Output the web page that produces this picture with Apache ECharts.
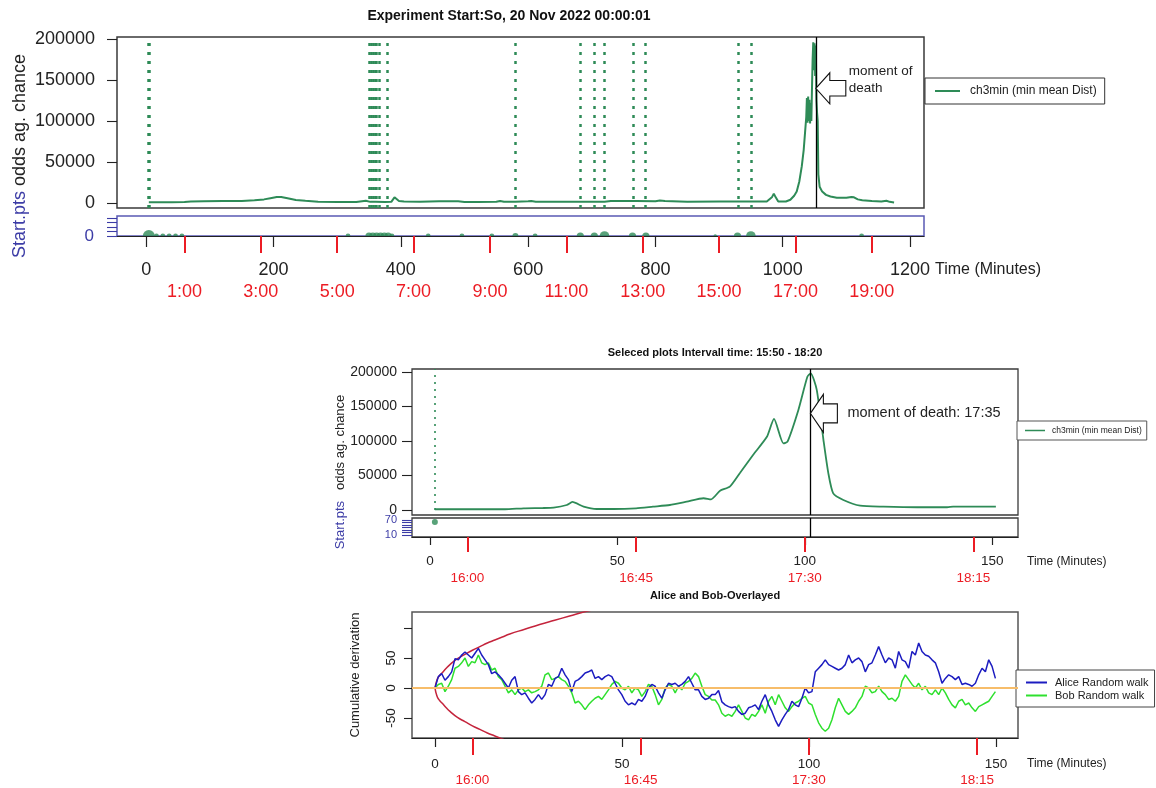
<!DOCTYPE html>
<html>
<head>
<meta charset="utf-8">
<script src="https://cdn.jsdelivr.net/npm/echarts@6/dist/echarts.min.js"></script>
<style>
  html, body { margin: 0; padding: 0; background: #fff; }
  #chart { width: 1156px; height: 788px; }
</style>
</head>
<body>
<div id="chart"></div>
<script>
// ---- data ----
// top panel: whole experiment, minutes since start
const topTime = [4, 20, 40, 60, 70, 90, 120, 150, 170, 185, 195, 205, 212, 222, 235, 250, 270, 300, 330, 345,
  352, 360, 375, 385, 390, 393, 397, 405, 430, 460, 490, 500, 520, 550, 556, 562, 580, 600, 605, 612,
  640, 680, 720, 730, 740, 770, 800, 807, 815, 850, 900, 950, 975, 983, 986, 989, 993, 1005, 1012, 1018,
  1022, 1026, 1030, 1033, 1035, 1037, 1038, 1039, 1040, 1041, 1042, 1043, 1044, 1045, 1046, 1047, 1048, 1049, 1050, 1051,
  1052, 1053, 1054, 1055, 1056, 1058, 1062, 1068, 1075, 1085, 1100, 1108, 1112, 1118, 1125, 1140, 1155, 1163, 1168, 1175];
const topValue = [1000, 1000, 1000, 1200, 1800, 2200, 2500, 2600, 3500, 4500, 6000, 7500, 7500, 6000, 3800, 2800, 1500, 1200, 1300, 2800,
  1500, 1600, 1200, 1500, 7000, 5000, 2500, 2000, 1500, 2200, 2200, 1400, 1400, 1500, 2500, 1500, 1500, 2300, 2600, 1600,
  1600, 1600, 1600, 2600, 2500, 2400, 2300, 3200, 2400, 1500, 2000, 2000, 2000, 7000, 11500, 7000, 1800, 2000, 4000, 9000,
  14000, 26000, 45000, 65000, 85000, 105000, 128000, 98000, 130000, 100000, 126000, 97000, 122000, 100000, 140000, 175000, 196000, 162000, 195000, 155000,
  192000, 125000, 110000, 100000, 35000, 20000, 14000, 10000, 8000, 6500, 6500, 7500, 7000, 4500, 3500, 2500, 1800, 2800, 1500, 800];
const topStartLines = [3, 5, 350, 353, 356, 359, 362, 366, 378, 580, 682, 704, 719, 765, 784, 930, 951];
const topStartPtTimes = [4, 16, 26, 36, 46, 56, 317, 350, 356, 362, 368, 374, 380, 386, 443, 496, 543, 580, 611, 682, 704, 720, 764, 785, 894, 929, 950, 1124];
const topStartPtWeights = [5, 2, 2, 2, 2, 2, 2, 3, 3, 3, 3, 3, 3, 2, 2, 2, 2, 2.5, 2, 3, 3, 4, 3, 3, 1.5, 3, 4, 2];
const topDeathTime = 1052;
const topYTicks = [0, 50000, 100000, 150000, 200000];
const topMinuteTicks = [0, 200, 400, 600, 800, 1000, 1200];
const topClockTicks = [60, 180, 300, 420, 540, 660, 780, 900, 1020, 1140];
const topClockLabels = ['1:00', '3:00', '5:00', '7:00', '9:00', '11:00', '13:00', '15:00', '17:00', '19:00'];

// middle panel: selected interval 15:50 - 18:20
const midTime = [1.3, 10, 20, 25, 30, 33, 36.5, 38, 41, 44.5, 49, 55, 59.5, 64, 68.5, 73, 75, 77.4, 80, 82.7,
  86.2, 89.9, 91.8, 94.3, 95.4, 98.3, 100.7, 101.6, 103.2, 105, 106.3, 107.6, 110.3, 114.8, 121, 130, 138, 139.6, 151];
const midValue = [1000, 1000, 1000, 2400, 2800, 3400, 7200, 11600, 4800, 1400, 1400, 2400, 4800, 7200, 12000, 17000, 15400, 28000, 33800, 53600,
  79700, 106000, 132000, 96600, 99000, 145000, 193000, 198000, 174000, 101000, 53000, 24000, 14500, 6200, 4800, 3900, 3900, 4800, 4800];
const midStartTime = 1.3;
const midStartPt = 62;
const midDeathTime = 101.5;
const midStripTicks = [10, 20, 30, 40, 50, 60, 70];
const midStripLabels = [10, 70];
const zoomMinuteTicks = [0, 50, 100, 150];
const zoomClockTicks = [10, 55, 100, 145];
const zoomClockLabels = ['16:00', '16:45', '17:30', '18:15'];
const deathArrowValue = 140000;

// bottom panel: random walks, one reading every walkStep minutes
const walkStep = 0.892;
const aliceWalk = [0, 19, 24, 13, 19, 27, 49, 47, 55, 60, 55, 50, 58, 66, 55, 47, 39, 24, 27, 22,
  16, 8, 0, 13, 19, -6, -11, -8, -17, -25, -19, -11, -19, -11, 6, 3, 16, 19, 33, 22,
  14, -6, 11, 14, 19, 25, 27, 30, 16, 19, 14, 19, 22, 19, 8, -3, -11, -22, -28, -25,
  -28, -19, -22, -14, 0, 6, 3, -8, -17, -3, 8, 6, 8, 3, 6, 11, 19, 8, -3, -3,
  -14, -19, -17, -11,
  -11, -4, -23, -28, -31, -33, -31, -39, -44, -42, -33, -31, -28, -36, -22, -11, -28, -39, -53, -64,
  -53, -44, -36, -22, -28, -31, -17, 0, -8, -6, 27, 33, 39, 47, 39, 36, 33, 30, 33, 39,
  55, 42, 47, 50, 44, 27, 39, 42, 55, 69, 55, 42, 50, 47, 33, 61, 47, 44, 33, 61,
  55, 75, 61, 55, 53, 47, 42, 27, 8, 16, 22, 19, 14, 19, 6, 8, 6, 3, 8, 22,
  33, 27, 47, 36, 16];
const bobWalk = [0, 6, 8, -6, 3, 14, 33, 36, 42, 50, 36, 44, 42, 55, 42, 39, 42, 30, 33, 19,
  14, 3, -8, -3, -11, -3, 0, -6, -3, -8, -6, -3, 3, 22, 25, 14, 16, 19, 14, 11,
  3, -8, -25, -22, -28, -36, -28, -22, -17, -14, -19, -11, -3, 6, 11, 8, 0, -3, 3, -8,
  0, -3, -14, -6, 6, 3, -11, -28, -19, 0, 6, 3, -8, 3, -3, 8, 11, 16, 25, 19,
  3, -11, -14, -20,
  -20, -28, -42, -47, -44, -47, -39, -28, -39, -50, -53, -44, -47, -39, -28, -42, -22, -14, -28, -11,
  -22, -33, -39, -31, -25, -22, -17, -14, -25, -28, -44, -58, -67, -72, -67, -53, -33, -17, -28, -39,
  -44, -39, -33, -22, -14, 3, 0, -8, -6, 3, -6, -11, -19, -17, -22, -14, 11, 22, 14, 6,
  0, 8, -3, 3, -8, -11, -3, -11, 0, -8, -19, -28, -33, -22, -19, -28, -25, -33, -39, -31,
  -28, -25, -22, -14, -6];
const envTime = [0, 0.5, 1, 2, 3, 4, 6, 8, 10, 12, 14, 16, 18, 20, 24, 28, 32, 36, 40, 42];
const envUpper = [0, 13, 19, 26, 33, 39, 49, 56, 63, 69, 75, 80, 85, 90, 98, 106, 113, 120, 127, 130];
const envLower = [0, -13, -19, -26, -33, -39, -49, -56, -63, -69, -75, -80, -85, -90, -98, -106, -113, -120, -127, -130];
const walkYTicks = [-50, 0, 50, 100];
const walkYLabels = [-50, 0, 50];

// ---- styling ----
const FONT = '"Liberation Sans", Arial, sans-serif';
const GREEN = '#2e8b57';
const RED = '#ec1c24';
const SLATE = '#3c3ca6';
const INK = '#222';
const LEGEND_NAME = 'ch3min (min mean Dist)';
// half disc standing on its flat side, for the start-point mounds
const MOUND = 'path://M0,10 A10,10 0 0 1 20,10 Z';

const pairs = (xs, ys) => xs.map((x, i) => [x, ys[i]]);
const plain = (v) => String(v);
const pickLabel = (ticks, labels) => (v) => {
  const i = ticks.indexOf(v);
  return i < 0 ? '' : labels[i];
};

// hidden x axis for a plot box, ticks & labels live on the strip/axis below
function hiddenX(gridIndex, min, max) {
  return { type: 'value', gridIndex, min, max, show: false, axisLine: { onZero: false } };
}
function minuteAxis(gridIndex, min, max, ticks, tickLen, fontSize, margin) {
  return {
    type: 'value', gridIndex, min, max, position: 'bottom',
    axisLine: { show: true, onZero: false, lineStyle: { color: INK, width: 1.2 } },
    axisTick: { show: true, length: tickLen, customValues: ticks, lineStyle: { color: INK, width: 1.2 } },
    axisLabel: { customValues: ticks, formatter: plain, fontSize, margin, color: INK, fontFamily: FONT },
    splitLine: { show: false }
  };
}
function clockAxis(gridIndex, min, max, ticks, labels, tickLen, fontSize, margin) {
  return {
    type: 'value', gridIndex, min, max, position: 'bottom',
    axisLine: { show: false, onZero: false },
    axisTick: { show: true, length: tickLen, customValues: ticks, lineStyle: { color: RED, width: 2 } },
    axisLabel: { customValues: ticks, formatter: pickLabel(ticks, labels), fontSize, margin, color: RED, fontFamily: FONT },
    splitLine: { show: false }
  };
}
function yAxisOf(gridIndex, min, max, ticks, labels, opts) {
  return {
    type: 'value', gridIndex, min, max, position: 'left',
    axisLine: { show: false, onZero: false },
    axisTick: { show: true, length: opts.tickLen, customValues: ticks, lineStyle: { color: opts.color, width: 1.1 } },
    axisLabel: {
      customValues: labels, formatter: plain, fontSize: opts.fontSize, margin: opts.margin, color: opts.color,
      fontFamily: FONT, rotate: opts.rotate || 0
    },
    splitLine: { show: false }
  };
}
const deathLine = (t) => ({ xAxis: t, lineStyle: { type: 'solid', color: '#000', width: 1.3 } });
const legendBase = {
  icon: 'rect', selectedMode: false, backgroundColor: '#fff', borderWidth: 1
};

const chart = echarts.init(document.getElementById('chart'));

const option = {
  animation: false,
  backgroundColor: '#fff',
  textStyle: { fontFamily: FONT },
  grid: [
    { left: 117, top: 37, width: 807, height: 171, show: true, borderColor: '#3a3a3a', borderWidth: 1.5 },
    { left: 117, top: 216, width: 807, height: 20, show: true, borderColor: '#5a5ab4', borderWidth: 1.5 },
    { left: 412, top: 369, width: 606, height: 146, show: true, borderColor: '#3a3a3a', borderWidth: 1.3 },
    { left: 412, top: 518, width: 606, height: 19, show: true, borderColor: '#3a3a3a', borderWidth: 1.3 },
    { left: 412, top: 612, width: 606, height: 126, show: true, borderColor: '#555', borderWidth: 1.5 }
  ],
  xAxis: [
    hiddenX(0, -46, 1222),
    minuteAxis(1, -46, 1222, topMinuteTicks, 11, 18, 25),
    clockAxis(1, -46, 1222, topClockTicks, topClockLabels, 17, 18, 47),
    hiddenX(2, -4.8, 156.9),
    minuteAxis(3, -4.8, 156.9, zoomMinuteTicks, 8, 13.5, 17),
    clockAxis(3, -4.8, 156.9, zoomClockTicks, zoomClockLabels, 15, 13.5, 34),
    minuteAxis(4, -6.15, 155.9, zoomMinuteTicks, 9, 13.5, 19),
    clockAxis(4, -6.15, 155.9, zoomClockTicks, zoomClockLabels, 17, 13.5, 35)
  ],
  yAxis: [
    yAxisOf(0, -6000, 202500, topYTicks, topYTicks, { tickLen: 10, fontSize: 18, margin: 22, color: INK }),
    yAxisOf(1, 0, 4.4, [0, 1, 2, 3, 4], [0], { tickLen: 10, fontSize: 17, margin: 23, color: SLATE }),
    yAxisOf(2, -7300, 204300, topYTicks, topYTicks, { tickLen: 10, fontSize: 14, margin: 15, color: INK }),
    yAxisOf(3, 2, 78, midStripTicks, midStripLabels, { tickLen: 10, fontSize: 11, margin: 15, color: SLATE }),
    yAxisOf(4, -83.3, 126.7, walkYTicks, walkYLabels, { tickLen: 8, fontSize: 13.5, margin: 14, color: INK, rotate: 90 })
  ],
  legend: [
    Object.assign({}, legendBase, {
      data: [LEGEND_NAME], left: 925, top: 78, itemWidth: 25, itemHeight: 2,
      padding: [7, 8, 7, 10], borderColor: '#333',
      textStyle: { fontSize: 12, color: INK, padding: [0, 0, 0, 5] }
    }),
    Object.assign({}, legendBase, {
      data: [LEGEND_NAME], left: 1017, top: 421, itemWidth: 20, itemHeight: 1.5,
      padding: [5, 5, 5, 8], borderColor: '#555',
      textStyle: { fontSize: 8.5, color: INK, padding: [0, 0, 0, 2] }
    }),
    Object.assign({}, legendBase, {
      data: ['Alice Random walk', 'Bob Random walk'], left: 1016, top: 670, orient: 'vertical',
      itemWidth: 21, itemHeight: 2, itemGap: 0,
      padding: [6, 6, 5, 10], borderColor: '#444',
      textStyle: { fontSize: 11, color: INK, padding: [0, 0, 0, 3], lineHeight: 13 }
    })
  ],
  series: [
    {
      name: LEGEND_NAME, type: 'line', xAxisIndex: 0, yAxisIndex: 0,
      data: pairs(topTime, topValue), symbol: 'none',
      lineStyle: { color: GREEN, width: 2 }, itemStyle: { color: GREEN },
      markLine: {
        silent: true, symbol: ['none', 'none'], label: { show: false },
        lineStyle: { type: [3, 6], color: GREEN, width: 2.5 },
        data: topStartLines.map((t) => ({ xAxis: t })).concat([deathLine(topDeathTime)])
      }
    },
    {
      name: 'top start pts', type: 'scatter', xAxisIndex: 1, yAxisIndex: 1,
      data: topStartPtTimes.map((t, i) => [t, 0, topStartPtWeights[i]]),
      symbol: MOUND,
      symbolSize: (d) => [d[2] * 2.4, d[2] * 1.2],
      symbolOffset: (d) => [0, -d[2] * 0.6],
      itemStyle: { color: GREEN }
    },
    {
      name: LEGEND_NAME, type: 'line', xAxisIndex: 3, yAxisIndex: 2,
      data: pairs(midTime, midValue), symbol: 'none', smooth: 0.2,
      lineStyle: { color: GREEN, width: 1.8 }, itemStyle: { color: GREEN },
      markLine: {
        silent: true, symbol: ['none', 'none'], label: { show: false },
        lineStyle: { type: [2, 5], color: GREEN, width: 1.6 },
        data: [
          [{ xAxis: midStartTime, yAxis: 0 }, { xAxis: midStartTime, yAxis: 204300 }],
          deathLine(midDeathTime)
        ]
      }
    },
    {
      name: 'mid start pts', type: 'scatter', xAxisIndex: 4, yAxisIndex: 3,
      data: [[midStartTime, midStartPt]], symbolSize: 6, itemStyle: { color: GREEN },
      markLine: {
        silent: true, symbol: ['none', 'none'], label: { show: false },
        data: [deathLine(midDeathTime)]
      }
    },
    {
      name: 'envelope upper', type: 'line', xAxisIndex: 6, yAxisIndex: 4,
      data: pairs(envTime, envUpper), symbol: 'none', smooth: true,
      lineStyle: { color: '#c4243c', width: 1.5 },
      markLine: {
        silent: true, symbol: ['none', 'none'], label: { show: false },
        lineStyle: { type: 'solid', color: '#f7bd6a', width: 2 },
        data: [{ yAxis: 0 }]
      }
    },
    {
      name: 'envelope lower', type: 'line', xAxisIndex: 6, yAxisIndex: 4,
      data: pairs(envTime, envLower), symbol: 'none', smooth: true,
      lineStyle: { color: '#c4243c', width: 1.5 }
    },
    {
      name: 'Bob Random walk', type: 'line', xAxisIndex: 6, yAxisIndex: 4,
      data: bobWalk.map((v, i) => [i * walkStep, v]), symbol: 'none',
      lineStyle: { color: '#2ee02e', width: 1.5 }, itemStyle: { color: '#2ee02e' }
    },
    {
      name: 'Alice Random walk', type: 'line', xAxisIndex: 6, yAxisIndex: 4,
      data: aliceWalk.map((v, i) => [i * walkStep, v]), symbol: 'none',
      lineStyle: { color: '#1c1cc0', width: 1.5 }, itemStyle: { color: '#1c1cc0' }
    }
  ]
};
chart.setOption(option);

// ---- texts and the two "moment of death" arrows ----
function txt(x, y, text, size, extra) {
  return {
    type: 'text', x, y, silent: true,
    style: Object.assign({ text, fontSize: size, fontFamily: FONT, fill: INK, align: 'center', verticalAlign: 'middle' }, extra || {})
  };
}
function arrow(tip, headDx, headDy, shaftDy, shaftLen) {
  const [x, y] = tip;
  return {
    type: 'polygon', silent: true, z: 10,
    shape: {
      points: [[x, y], [x + headDx, y - headDy], [x + headDx, y - shaftDy], [x + shaftLen, y - shaftDy],
        [x + shaftLen, y + shaftDy], [x + headDx, y + shaftDy], [x + headDx, y + headDy]]
    },
    style: { fill: '#fff', stroke: '#111', lineWidth: 1.1 }
  };
}
const topTip = chart.convertToPixel({ gridIndex: 0 }, [topDeathTime, deathArrowValue]);
const midTip = chart.convertToPixel({ gridIndex: 2 }, [midDeathTime, deathArrowValue]);

const graphics = [
  txt(509, 16, 'Experiment Start:So, 20 Nov 2022 00:00:01', 14, { fontWeight: 'bold', fill: '#111' }),
  txt(715, 353, 'Seleced plots Intervall time: 15:50 - 18:20', 11, { fontWeight: 'bold', fill: '#111' }),
  txt(715, 596, 'Alice and Bob-Overlayed', 11, { fontWeight: 'bold', fill: '#111' }),
  txt(935, 270, 'Time (Minutes)', 16, { align: 'left' }),
  txt(1027, 562, 'Time (Minutes)', 12, { align: 'left' }),
  txt(1027, 764, 'Time (Minutes)', 12, { align: 'left' }),
  Object.assign(txt(20, 156, '{s|Start.pts} odds ag. chance', 18, {
    rich: { s: { fill: SLATE, fontSize: 18, fontFamily: FONT } }
  }), { rotation: Math.PI / 2 }),
  Object.assign(txt(340, 472, '{s|Start.pts}   odds ag. chance', 13, {
    rich: { s: { fill: SLATE, fontSize: 13, fontFamily: FONT } }
  }), { rotation: Math.PI / 2 }),
  Object.assign(txt(355, 675, 'Cumulative derivation', 13), { rotation: Math.PI / 2 }),
  arrow(topTip, 14, 15.5, 7.7, 30),
  txt(topTip[0] + 33, topTip[1] - 8.5, 'moment of\ndeath', 13.5, { align: 'left', lineHeight: 17 }),
  arrow(midTip, 13, 19, 9.5, 27),
  txt(midTip[0] + 37, midTip[1], 'moment of death: 17:35', 14.5, { align: 'left' })
];
chart.setOption({ graphic: graphics });
</script>
</body>
</html>
